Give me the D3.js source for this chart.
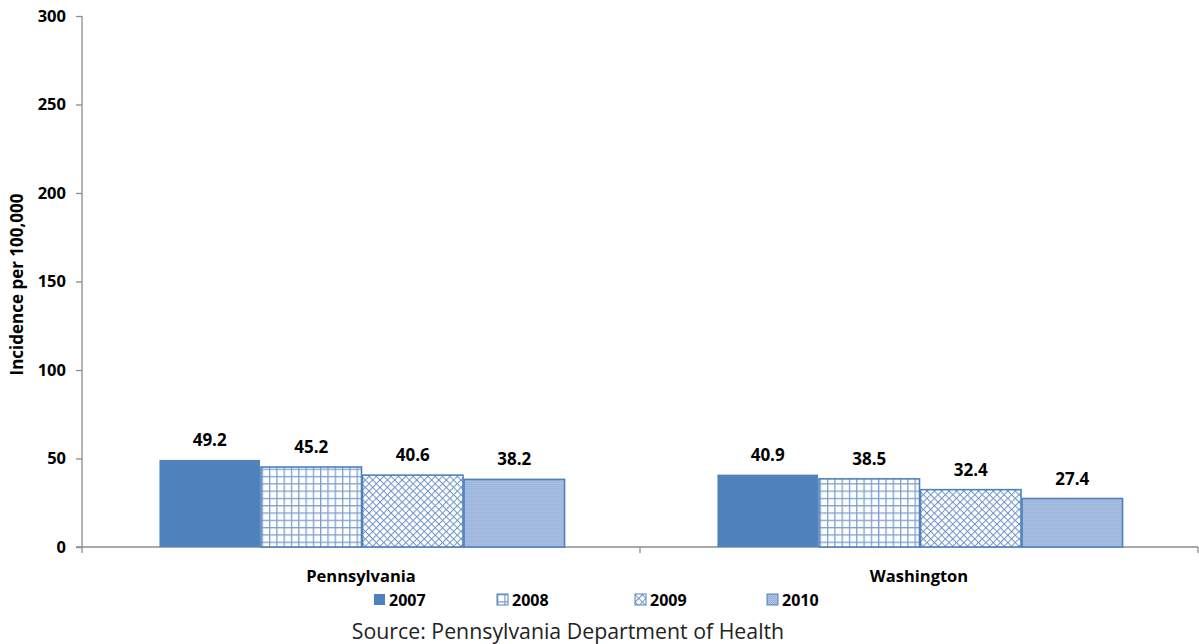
<!DOCTYPE html>
<html>
<head>
<meta charset="utf-8">
<script src="https://cdn.jsdelivr.net/npm/d3@7"></script>
<style>
  body { margin: 0; background: #fff; }
  text { font-family: "Open Sans", "Liberation Sans", sans-serif; }
</style>
</head>
<body>
<svg id="chart" width="1199" height="644"></svg>
<script>
// data
const regions = ["Pennsylvania", "Washington"];
const years = ["2007", "2008", "2009", "2010"];
const rates = {
  "Pennsylvania": [49.2, 45.2, 40.6, 38.2],
  "Washington":   [40.9, 38.5, 32.4, 27.4]
};
const yTicks = [0, 50, 100, 150, 200, 250, 300];

const margin = {top: 16, right: 1, bottom: 97, left: 82};
const svg = d3.select("#chart");
const W = +svg.attr("width"), H = +svg.attr("height");
const width = W - margin.left - margin.right;
const height = H - margin.top - margin.bottom;
const blue = "#4f81bd";

// patterns
const defs = svg.append("defs");
let p = defs.append("pattern").attr("id", "p2008").attr("patternUnits", "userSpaceOnUse")
  .attr("width", 7.3).attr("height", 7.3);
p.append("rect").attr("width", 7.3).attr("height", 7.3).attr("fill", "#fff");
p.append("rect").attr("width", 7.3).attr("height", 1.3).attr("fill", "#7ea0cf");
p.append("rect").attr("width", 1.3).attr("height", 7.3).attr("fill", "#7ea0cf");

p = defs.append("pattern").attr("id", "p2009").attr("patternUnits", "userSpaceOnUse")
  .attr("width", 5.2).attr("height", 5.2).attr("patternTransform", "rotate(45)");
p.append("rect").attr("width", 5.2).attr("height", 5.2).attr("fill", "#fff");
p.append("rect").attr("width", 5.2).attr("height", 1).attr("fill", "#6f93c8");
p.append("rect").attr("width", 1).attr("height", 5.2).attr("fill", "#6f93c8");

p = defs.append("pattern").attr("id", "p2010").attr("patternUnits", "userSpaceOnUse")
  .attr("width", 2).attr("height", 2);
p.append("rect").attr("width", 2).attr("height", 2).attr("fill", "#b2c6e4");
p.append("rect").attr("width", 1).attr("height", 1).attr("fill", "#8aa8d6");
p.append("rect").attr("x", 1).attr("y", 1).attr("width", 1).attr("height", 1).attr("fill", "#9bb5dc");

const fills = {"2007": blue, "2008": "url(#p2008)", "2009": "url(#p2009)", "2010": "url(#p2010)"};

const g = svg.append("g").attr("transform", `translate(${margin.left},${margin.top})`);

const x0 = d3.scaleBand().domain(regions).range([0, width]);
const x1 = d3.scaleBand().domain(years).range([0, x0.bandwidth() * 0.726])
  .paddingInner(0.01);
const y = d3.scaleLinear().domain([0, 300]).range([height, 0]);

// y axis
const yAxis = g.append("g")
  .call(d3.axisLeft(y).tickValues(yTicks).tickSize(6).tickPadding(10));
yAxis.select(".domain").remove();
yAxis.append("line").attr("y1", 0).attr("y2", height + 6)
  .attr("stroke", "#8c8c8c").attr("stroke-width", 1.3);
yAxis.selectAll("line").attr("stroke", "#8c8c8c").attr("stroke-width", 1.3);
yAxis.selectAll("text").attr("font-size", 16.5).attr("font-weight", "bold").attr("fill", "#000");

// x axis
const xAxis = g.append("g").attr("transform", `translate(0,${height})`);
xAxis.append("line").attr("x1", -6).attr("x2", width).attr("stroke", "#8c8c8c").attr("stroke-width", 1.3);
[x0.bandwidth(), width].forEach(v => {
  xAxis.append("line").attr("x1", v).attr("x2", v).attr("y1", 0).attr("y2", 6)
    .attr("stroke", "#8c8c8c").attr("stroke-width", 1.3);
});
xAxis.selectAll(".cat").data(regions).enter().append("text")
  .attr("x", d => x0(d) + x0.bandwidth() / 2)
  .attr("y", 35)
  .attr("text-anchor", "middle")
  .attr("font-size", 16.5).attr("font-weight", "bold")
  .text(d => d);

// bars
const groups = g.selectAll(".grp").data(regions).enter().append("g")
  .attr("transform", d => `translate(${x0(d) + (x0.bandwidth() - x1.range()[1]) / 2 + 1},0)`);

groups.selectAll("rect").data(r => years.map((yr, i) => ({yr, v: rates[r][i]})))
  .enter().append("rect")
  .attr("x", d => x1(d.yr))
  .attr("y", d => y(d.v))
  .attr("width", x1.bandwidth())
  .attr("height", d => height - y(d.v))
  .attr("fill", d => fills[d.yr])
  .attr("stroke", d => d.yr === "2007" ? "none" : blue)
  .attr("stroke-width", 1.6);

groups.selectAll(".val").data(r => years.map((yr, i) => ({yr, v: rates[r][i]})))
  .enter().append("text")
  .attr("x", d => x1(d.yr) + x1.bandwidth() / 2)
  .attr("y", d => y(d.v) - 14)
  .attr("text-anchor", "middle")
  .attr("font-size", 17).attr("font-weight", "bold")
  .text(d => d.v.toFixed(1));

// y title
svg.append("text")
  .attr("transform", `translate(23,${margin.top + height / 2 + 3}) rotate(-90)`)
  .attr("text-anchor", "middle")
  .attr("font-size", 17).attr("font-weight", "bold")
  .text("Incidence per 100,000");

// legend
const legX = [374, 497, 635, 767];
const leg = svg.selectAll(".leg").data(years).enter().append("g")
  .attr("transform", (d, i) => `translate(${legX[i]},594)`);
leg.append("rect").attr("width", 11).attr("height", 11)
  .attr("fill", d => fills[d])
  .attr("stroke", d => d === "2007" ? "none" : blue).attr("stroke-width", 1);
leg.append("text").attr("x", 15).attr("y", 11.5)
  .attr("font-size", 16).attr("font-weight", "bold")
  .text(d => d);

// source
svg.append("text")
  .attr("x", 568).attr("y", 639)
  .attr("text-anchor", "middle")
  .attr("font-size", 21.3)
  .attr("fill", "#222")
  .text("Source: Pennsylvania Department of Health");
</script>
</body>
</html>
